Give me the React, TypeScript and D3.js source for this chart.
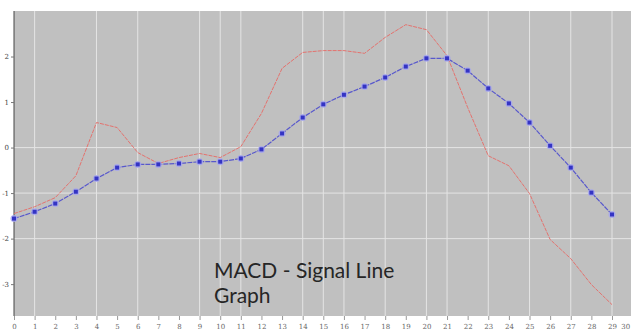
import React, { useEffect, useRef } from 'react';
import * as d3 from 'd3';

// values, one per x index 0..29
const macd = [
  -1.45, -1.3, -1.1, -0.62, 0.55, 0.44, -0.11, -0.35, -0.22, -0.13,
  -0.22, 0.02, 0.75, 1.74, 2.09, 2.13, 2.13, 2.07, 2.42, 2.7,
  2.59, 2.02, 0.88, -0.18, -0.4, -1.01, -2.02, -2.44, -3.01, -3.45,
];
const signal = [
  -1.56, -1.41, -1.23, -0.97, -0.68, -0.44, -0.37, -0.37, -0.35, -0.31,
  -0.31, -0.24, -0.04, 0.31, 0.66, 0.95, 1.16, 1.34, 1.54, 1.78,
  1.96, 1.96, 1.69, 1.3, 0.97, 0.55, 0.04, -0.44, -0.99, -1.47,
];
const xTicks = d3.range(0, 31);
const yTicks = [2, 1, 0, -1, -2, -3];
const xGrid = [1, 4, 6, 9, 10, 11, 14, 15, 16, 18, 20, 21, 23, 25, 27, 29];
const yGrid = [0, -1, -2];
const title = ['MACD - Signal Line', 'Graph'];

const W = 631;
const H = 332;

const App = () => {
  const ref = useRef<SVGSVGElement>(null);

  useEffect(() => {
    const svg = d3.select(ref.current);
    svg.selectAll('*').remove();

    const left = 14, top = 11, bottom = 316;
    const x = d3.scaleLinear().domain([0, 29]).range([14, 612]);
    const y = d3.scaleLinear().domain([3, -3.7]).range([top, bottom]);

    svg.append('rect')
      .attr('x', left).attr('y', top)
      .attr('width', W - left).attr('height', bottom - top)
      .attr('fill', '#c0c0c0');

    // grid
    svg.append('g').selectAll('line')
      .data(xGrid).enter().append('line')
      .attr('x1', d => x(d)).attr('x2', d => x(d))
      .attr('y1', top).attr('y2', bottom)
      .attr('stroke', '#e4e4e4').attr('stroke-width', 1);
    svg.append('g').selectAll('line')
      .data(yGrid).enter().append('line')
      .attr('x1', left).attr('x2', W)
      .attr('y1', d => y(d)).attr('y2', d => y(d))
      .attr('stroke', '#e4e4e4').attr('stroke-width', 1);

    // axes
    const xAxis = svg.append('g')
      .attr('transform', `translate(0,${bottom})`)
      .call(d3.axisBottom(x).tickValues(xTicks).tickSize(4).tickFormat(d => `${d}`));
    xAxis.select('.domain').remove();
    xAxis.selectAll('line').attr('stroke', '#999');
    xAxis.selectAll('text')
      .attr('font-family', 'DejaVu Serif').attr('font-size', 7)
      .attr('fill', '#666').attr('dy', '0.9em')
      .attr('text-anchor', d => (d === 30 ? 'end' : 'middle'))
      .attr('dx', d => (d === 30 ? -3 : 0));

    const yAxis = svg.append('g')
      .attr('transform', `translate(${left},0)`)
      .call(d3.axisLeft(y).tickValues(yTicks).tickSize(3).tickFormat(d => `${d}`));
    yAxis.select('.domain')
      .attr('d', `M0,${top}V${bottom}`).attr('stroke', '#444');
    yAxis.selectAll('line').attr('stroke', '#777');
    yAxis.selectAll('text')
      .attr('font-family', 'DejaVu Serif').attr('font-size', 7)
      .attr('fill', '#444').attr('x', -5);

    const line = d3.line<number>().x((d, i) => x(i)).y(d => y(d));

    svg.append('path')
      .datum(macd)
      .attr('fill', 'none')
      .attr('stroke', '#e4726e')
      .attr('stroke-width', 1)
      .attr('stroke-dasharray', '4,1')
      .attr('d', line);

    svg.append('path')
      .datum(signal)
      .attr('fill', 'none')
      .attr('stroke', '#5858cc')
      .attr('stroke-width', 1.2)
      .attr('stroke-dasharray', '5,1')
      .attr('d', line);

    svg.append('g').selectAll('circle')
      .data(signal).enter().append('circle')
      .attr('cx', (d, i) => x(i)).attr('cy', d => y(d))
      .attr('r', 3.5).attr('fill', '#a4a4ee').attr('opacity', 0.85);
    svg.append('g').selectAll('rect')
      .data(signal).enter().append('rect')
      .attr('x', (d, i) => x(i) - 2).attr('y', d => y(d) - 2)
      .attr('width', 4).attr('height', 4)
      .attr('fill', '#3434c4');

    svg.append('g').selectAll('text')
      .data(title).enter().append('text')
      .attr('x', 214).attr('y', (d, i) => 278 + i * 25)
      .attr('font-family', 'Lato').attr('font-size', 21)
      .attr('fill', '#262626')
      .text(d => d);
  }, []);

  return (
    <svg
      ref={ref}
      width={W}
      height={H}
      style={{ position: 'absolute', left: 0, top: 0, background: '#fff' }}
    />
  );
};

export default App;
